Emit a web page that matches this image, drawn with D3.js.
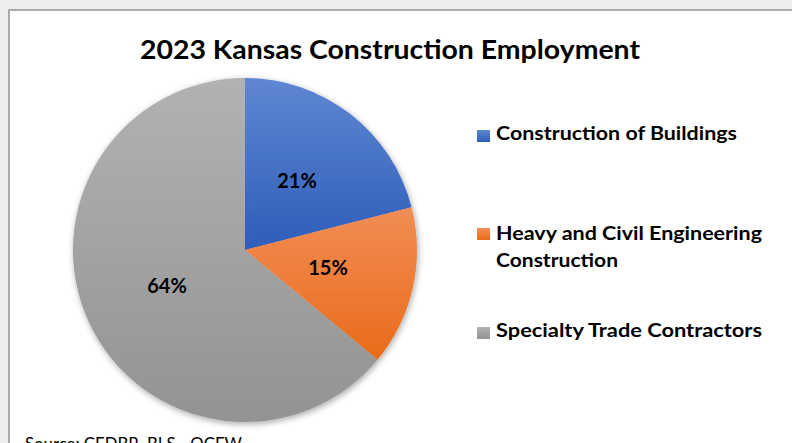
<!DOCTYPE html>
<html><head><meta charset="utf-8">
<script src="https://cdn.jsdelivr.net/npm/d3@7"></script>
<style>body{margin:0;background:#efefef;overflow:hidden}</style>
</head><body>
<svg id="c" width="792" height="443"></svg>
<script>
const categories = ["Construction of Buildings", "Heavy and Civil Engineering Construction", "Specialty Trade Contractors"];
const values = [21, 15, 64];
const labels = ["21%", "15%", "64%"];
const legendLines = [["Construction of Buildings"], ["Heavy and Civil Engineering", "Construction"], ["Specialty Trade Contractors"]];
const titleText = "2023 Kansas Construction Employment";
const sourceText = "Source: CEDBR, BLS - QCEW";
const colorsTop = ["#5f87d2", "#f28d55", "#b2b2b2"];
const colorsBottom = ["#2e5db9", "#e96b1a", "#939393"];

const svg = d3.select("#c");
const FONT = "Lato, 'Open Sans', sans-serif";
const defs = svg.append("defs");

// backdrop
svg.append("rect").attr("x",0).attr("y",0).attr("width",792).attr("height",443).attr("fill","#eeeeee");
svg.append("rect").attr("x",9).attr("y",10).attr("width",800).attr("height",450)
  .attr("fill","#ffffff").attr("stroke","#a3a3a3").attr("stroke-width",1.8);

// title
svg.append("text").attr("x",140).attr("y",58.5)
  .attr("font-family",FONT).attr("font-weight",700).attr("font-size",26)
  .attr("textLength",500).attr("lengthAdjust","spacingAndGlyphs")
  .attr("fill","#000").text(titleText);

const cx = 245, cy = 250, r = 172;
const pie = d3.pie().sort(null).value(d => d)(values);
const arc = d3.arc().innerRadius(0).outerRadius(r);

// gradients
categories.forEach((c,i) => {
  const g = defs.append("linearGradient").attr("id","g"+i).attr("x1",0).attr("y1",0).attr("x2",0).attr("y2",1);
  g.append("stop").attr("offset","0%").attr("stop-color",colorsTop[i]);
  g.append("stop").attr("offset","100%").attr("stop-color",colorsBottom[i]);
});
const f = defs.append("filter").attr("id","sh").attr("x","-10%").attr("y","-10%").attr("width","120%").attr("height","120%");
f.append("feDropShadow").attr("dx",1).attr("dy",2).attr("stdDeviation",3).attr("flood-color","#000").attr("flood-opacity",0.35);

const gp = svg.append("g").attr("transform",`translate(${cx},${cy})`);
gp.append("g").attr("filter","url(#sh)").selectAll("path").data(pie).join("path")
  .attr("d",arc).attr("fill",(d,i)=>`url(#g${i})`);

const labelPos = [[52,-62],[83,25],[-78,43]];
gp.selectAll("text.lbl").data(pie).join("text").attr("class","lbl")
  .attr("x",(d,i)=>labelPos[i][0]).attr("y",(d,i)=>labelPos[i][1])
  .attr("text-anchor","middle")
  .attr("font-family",FONT).attr("font-weight",700).attr("font-size",20)
  .attr("fill","#000").text((d,i)=>labels[i]);

// legend
const legSquareY = [130, 228, 327];
const legBase = [[140], [240, 267], [337]];
const legWidths = [[241], [266, 122], [266]];
const lg = svg.append("g");
legendLines.forEach((lines,i) => {
  lg.append("rect").attr("x",477).attr("y",legSquareY[i]).attr("width",13).attr("height",12)
    .attr("fill",`url(#g${i})`);
  lines.forEach((ln,j) => {
    lg.append("text").attr("x",496).attr("y",legBase[i][j])
      .attr("font-family",FONT).attr("font-weight",700).attr("font-size",19.5).attr("fill","#000")
      .attr("textLength",legWidths[i][j]).attr("lengthAdjust","spacingAndGlyphs").text(ln);
  });
});

svg.append("text").attr("x",25).attr("y",450).attr("font-family",FONT).attr("font-size",17)
  .attr("textLength",217).attr("lengthAdjust","spacingAndGlyphs")
  .attr("fill","#000").text(sourceText);
</script>
</body></html>
